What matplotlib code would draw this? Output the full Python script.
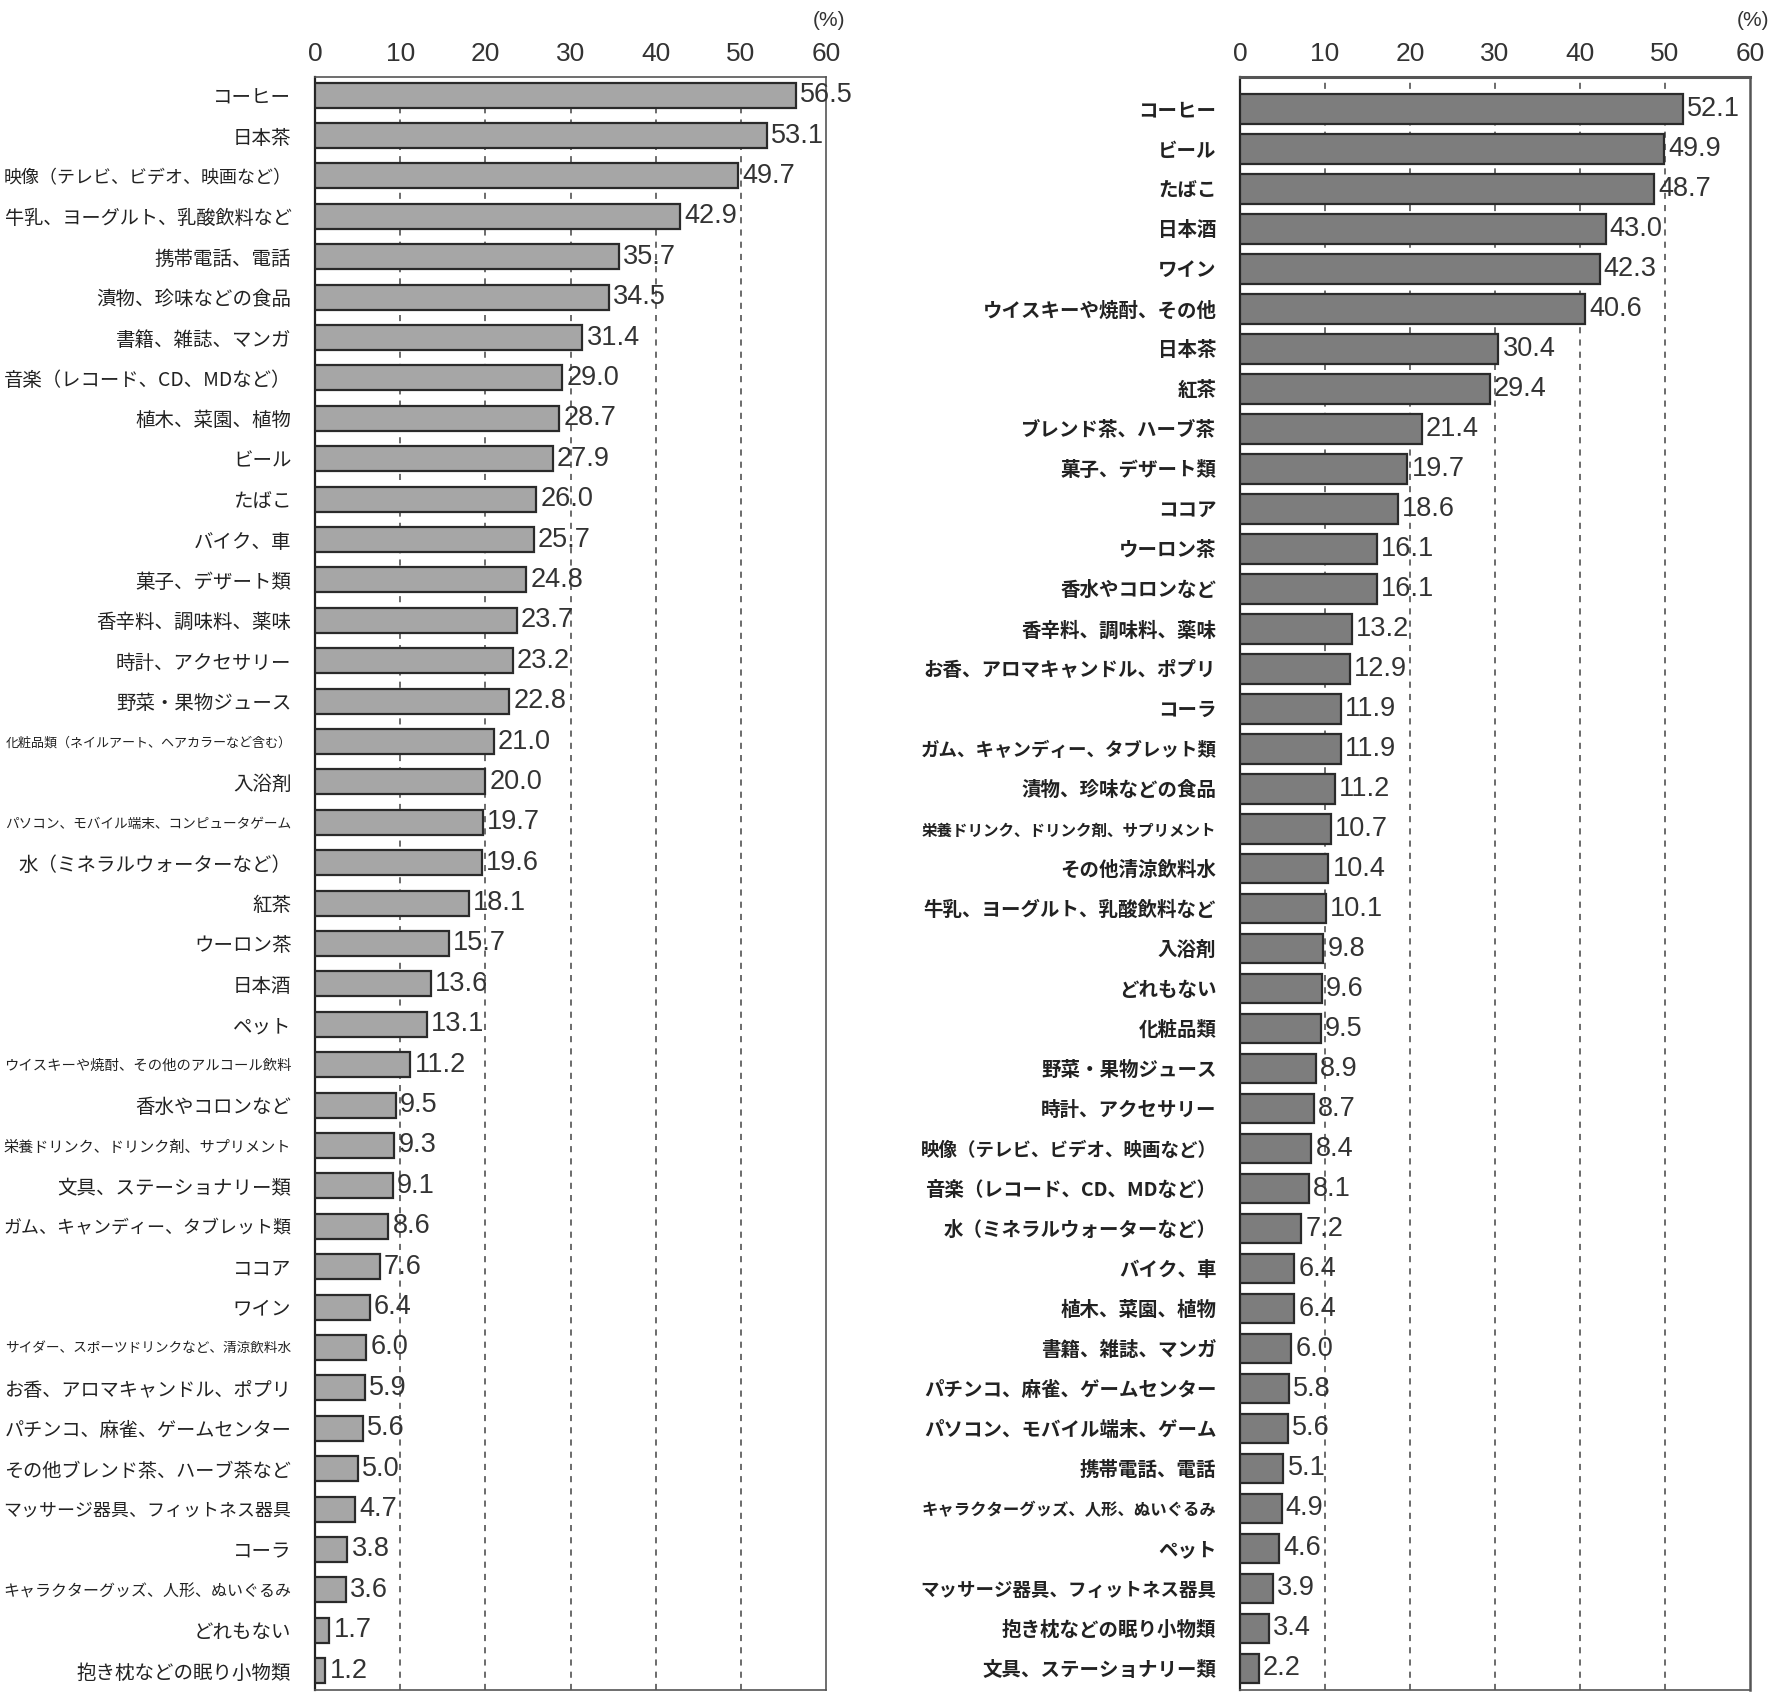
import matplotlib
matplotlib.use("Agg")
import matplotlib.pyplot as plt

plt.rcParams['font.family'] = ['Noto Sans CJK JP', 'DejaVu Sans']

# left panel
left_labels = ["コーヒー", "日本茶", "映像（テレビ、ビデオ、映画など）", "牛乳、ヨーグルト、乳酸飲料など",
               "携帯電話、電話", "漬物、珍味などの食品", "書籍、雑誌、マンガ", "音楽（レコード、CD、MDなど）",
               "植木、菜園、植物", "ビール", "たばこ", "バイク、車", "菓子、デザート類",
               "香辛料、調味料、薬味", "時計、アクセサリー", "野菜・果物ジュース",
               "化粧品類（ネイルアート、ヘアカラーなど含む）", "入浴剤",
               "パソコン、モバイル端末、コンピュータゲーム", "水（ミネラルウォーターなど）", "紅茶",
               "ウーロン茶", "日本酒", "ペット", "ウイスキーや焼酎、その他のアルコール飲料",
               "香水やコロンなど", "栄養ドリンク、ドリンク剤、サプリメント", "文具、ステーショナリー類",
               "ガム、キャンディー、タブレット類", "ココア", "ワイン",
               "サイダー、スポーツドリンクなど、清涼飲料水", "お香、アロマキャンドル、ポプリ",
               "パチンコ、麻雀、ゲームセンター", "その他ブレンド茶、ハーブ茶など",
               "マッサージ器具、フィットネス器具", "コーラ", "キャラクターグッズ、人形、ぬいぐるみ",
               "どれもない", "抱き枕などの眠り小物類"]
left_values = [56.5, 53.1, 49.7, 42.9, 35.7, 34.5, 31.4, 29.0, 28.7, 27.9, 26.0, 25.7, 24.8,
               23.7, 23.2, 22.8, 21.0, 20.0, 19.7, 19.6, 18.1, 15.7, 13.6, 13.1, 11.2, 9.5,
               9.3, 9.1, 8.6, 7.6, 6.4, 6.0, 5.9, 5.6, 5.0, 4.7, 3.8, 3.6, 1.7, 1.2]

# right panel
right_labels = ["コーヒー", "ビール", "たばこ", "日本酒", "ワイン", "ウイスキーや焼酎、その他",
                "日本茶", "紅茶", "ブレンド茶、ハーブ茶", "菓子、デザート類", "ココア", "ウーロン茶",
                "香水やコロンなど", "香辛料、調味料、薬味", "お香、アロマキャンドル、ポプリ", "コーラ",
                "ガム、キャンディー、タブレット類", "漬物、珍味などの食品",
                "栄養ドリンク、ドリンク剤、サプリメント", "その他清涼飲料水",
                "牛乳、ヨーグルト、乳酸飲料など", "入浴剤", "どれもない", "化粧品類",
                "野菜・果物ジュース", "時計、アクセサリー", "映像（テレビ、ビデオ、映画など）",
                "音楽（レコード、CD、MDなど）", "水（ミネラルウォーターなど）", "バイク、車",
                "植木、菜園、植物", "書籍、雑誌、マンガ", "パチンコ、麻雀、ゲームセンター",
                "パソコン、モバイル端末、ゲーム", "携帯電話、電話",
                "キャラクターグッズ、人形、ぬいぐるみ", "ペット", "マッサージ器具、フィットネス器具",
                "抱き枕などの眠り小物類", "文具、ステーショナリー類"]
right_values = [52.1, 49.9, 48.7, 43.0, 42.3, 40.6, 30.4, 29.4, 21.4, 19.7, 18.6, 16.1, 16.1,
                13.2, 12.9, 11.9, 11.9, 11.2, 10.7, 10.4, 10.1, 9.8, 9.6, 9.5, 8.9, 8.7, 8.4,
                8.1, 7.2, 6.4, 6.4, 6.0, 5.8, 5.6, 5.1, 4.9, 4.6, 3.9, 3.4, 2.2]

xticks = [0, 10, 20, 30, 40, 50, 60]

fig = plt.figure(figsize=(17.82, 17.07), dpi=100)
renderer = fig.canvas.get_renderer()


def draw_panel(rect, labels, values, fill, hbar, ylim, maxw, bold):
    ax = fig.add_axes(rect)
    y = list(range(len(values)))
    ax.barh(y, values, height=hbar, color=fill, edgecolor='#2a2a2a', linewidth=1.6, zorder=3)
    ax.set_xlim(0, 60)
    ax.set_ylim(*ylim)
    ax.set_xticks(xticks)
    ax.xaxis.tick_top()
    ax.tick_params(axis='x', length=0, pad=8, labelsize=19)
    for t in ax.get_xticklabels():
        t.set_family('Liberation Sans')
        t.set_color('#333333')
    ax.set_yticks(y)
    ax.set_yticklabels(labels)
    ax.tick_params(axis='y', length=0, pad=17)
    for t in ax.get_yticklabels():
        t.set_fontsize(14)
        t.set_color('#222222')
        if bold:
            t.set_fontweight('bold')
        w = t.get_window_extent(renderer).width
        if w > maxw:
            t.set_fontsize(14 * maxw / w)
    for x in xticks[1:-1]:
        ax.axvline(x, color='#444444', linestyle=(0, (4, 4)), linewidth=1.1, zorder=1)
    for yy, v in zip(y, values):
        ax.annotate(f"{v:.1f}", (v, yy), xytext=(3, 0), textcoords='offset points',
                    va='center', ha='left', fontsize=19.5, family='Liberation Sans',
                    color='#333333', zorder=4)
    for s in ax.spines.values():
        s.set_color('#555555')
        s.set_linewidth(1.2)
    ax.spines['left'].set_color('#222222')
    ax.spines['left'].set_linewidth(1.6)
    ax.annotate("(%)", (1.0, 1.0), xycoords='axes fraction', xytext=(2, 41),
                textcoords='offset points', ha='center', va='center', fontsize=15,
                family='Liberation Sans', color='#333333')
    return ax


draw_panel([315 / 1782, 1 - 1690 / 1707, 511 / 1782, 1613 / 1707], left_labels, left_values,
           '#a6a6a6', 0.62, (39.48, -0.45), 288, False)
axr = draw_panel([1240 / 1782, 1 - 1690 / 1707, 510 / 1782, 1613 / 1707], right_labels,
                 right_values, '#7d7d7d', 0.74, (39.54, -0.8), 296, True)
axr.spines['top'].set_linewidth(2.2)
axr.spines['right'].set_linewidth(1.8)

fig.savefig("out.png", dpi=100, facecolor='white')
